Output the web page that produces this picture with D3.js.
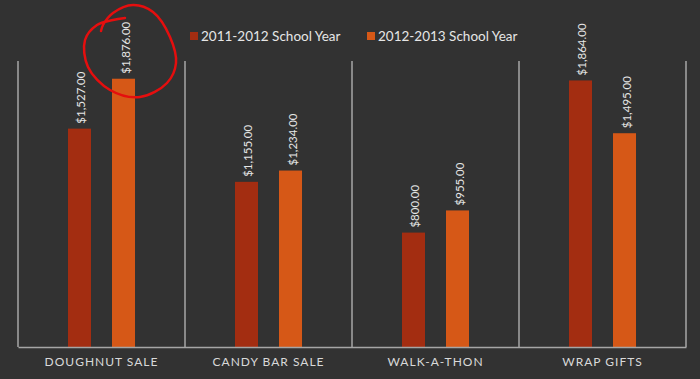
<!DOCTYPE html>
<html><head><meta charset="utf-8">
<script src="https://cdn.jsdelivr.net/npm/d3@7"></script>
<style>html,body{margin:0;padding:0;background:#323232;}svg{display:block;}</style>
</head><body>
<svg id="chart" width="700" height="379"></svg>
<script>
const categories = ["DOUGHNUT SALE", "CANDY BAR SALE", "WALK-A-THON", "WRAP GIFTS"];
const seriesNames = ["2011-2012 School Year", "2012-2013 School Year"];
const values2011 = [1527, 1155, 800, 1864];
const values2012 = [1876, 1234, 955, 1495];
const colors = ["#a32d11", "#d65817"];
const annotationPts = [[101,31],[103,25],[113,13],[133,5],[153,12],[170,37],[176,63],[167,83],[140,97],[110,90],[88,67],[85,40],[97,25],[113,20],[125,18]];

(function () {
const svg = d3.select("#chart");
const W = 700, H = 379;
svg.append("rect").attr("width", W).attr("height", H).attr("fill", "#323232");

const pL = 18, pR = 686, pT = 61, pB = 347;
const x = d3.scaleBand().domain(categories).range([pL, pR]).paddingInner(0).paddingOuter(0);
const x1 = d3.scaleBand().domain([0, 1]).range([0, x.bandwidth()]).paddingInner(0.477).paddingOuter(1.136);
const y = d3.scaleLinear().domain([0, 2000]).range([pB, pT]);
const font = "'Century Gothic', 'URW Gothic', 'Lato', 'DejaVu Sans', sans-serif";

// dividers
const dividers = categories.map((c) => x(c)).concat([pR]);
svg.append("g").selectAll("line").data(dividers).join("line")
  .attr("x1", d => d).attr("x2", d => d).attr("y1", pT).attr("y2", pB)
  .attr("stroke", "#e0e0e0").attr("stroke-width", 1);

// bars
const data = [];
categories.forEach((c, i) => {
  data.push({c, s: 0, v: values2011[i]});
  data.push({c, s: 1, v: values2012[i]});
});
svg.append("g").selectAll("rect").data(data).join("rect")
  .attr("x", d => x(d.c) + x1(d.s))
  .attr("width", x1.bandwidth())
  .attr("y", d => y(d.v))
  .attr("height", d => y(0) - y(d.v))
  .attr("fill", d => colors[d.s]);

// value labels
const fmt = d3.format(",.2f");
svg.append("g").selectAll("text").data(data).join("text")
  .attr("transform", d => `translate(${x(d.c) + x1(d.s) + x1.bandwidth()/2 + 6},${y(d.v) - 5}) rotate(-90)`)
  .attr("text-anchor", "start")
  .attr("fill", "#e6e6e6")
  .style("font-family", font).style("font-size", "11.5px")
  .text(d => "$" + fmt(d.v));

// baseline axis
const xAxis = d3.axisBottom(x).tickSize(0).tickPadding(10);
const ax = svg.append("g").attr("transform", `translate(0,${pB})`).call(xAxis);
ax.select(".domain").attr("stroke", "#a6a6a6").attr("stroke-width", 1.5);
ax.selectAll("text").attr("fill", "#d9d9d9")
  .style("font-family", font).style("font-size", "12px").style("letter-spacing", "1px");

// legend
const legend = svg.append("g");
const legX = [190, 367];
seriesNames.forEach((s, i) => {
  legend.append("rect").attr("x", legX[i]).attr("y", 32).attr("width", 8).attr("height", 8).attr("fill", colors[i]);
  legend.append("text").attr("x", legX[i] + 11).attr("y", 41).attr("fill", "#e6e6e6")
    .style("font-family", font).style("font-size", "13.5px").text(s);
});

// hand-drawn annotation circle
svg.append("path")
  .attr("d", d3.line().curve(d3.curveCatmullRom)(annotationPts))
  .attr("fill", "none").attr("stroke", "#e50e0e").attr("stroke-width", 2.5)
  .attr("stroke-linecap", "round");
})();
</script>
</body></html>
